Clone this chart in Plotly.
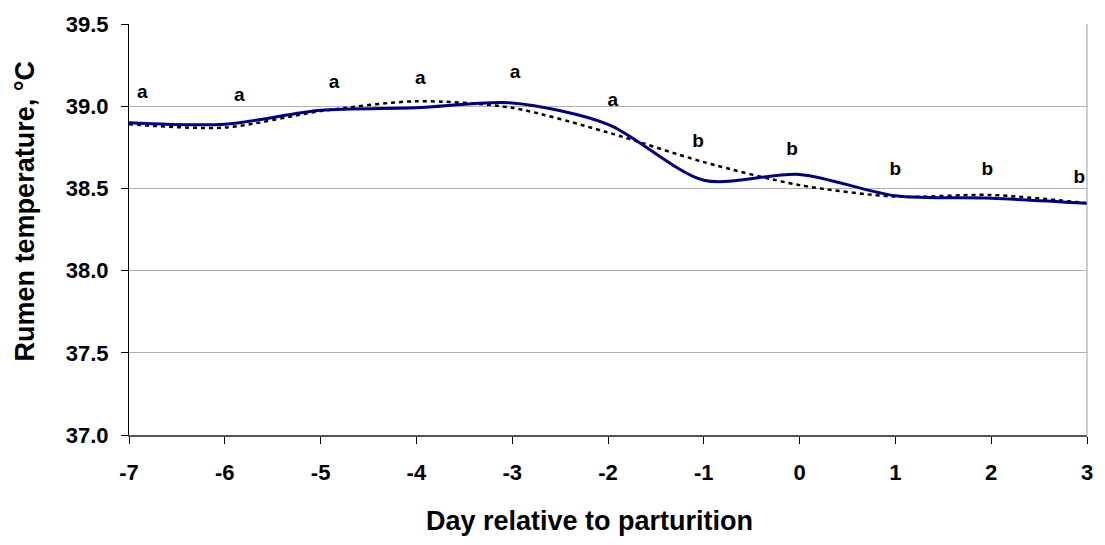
import plotly.graph_objects as go

days = [-7, -6, -5, -4, -3, -2, -1, 0, 1, 2, 3]
solid_temp = [38.90, 38.89, 38.975, 38.99, 39.02, 38.89, 38.55, 38.585, 38.455, 38.44, 38.41]
dotted_temp = [38.89, 38.87, 38.97, 39.03, 38.99, 38.84, 38.66, 38.52, 38.45, 38.46, 38.41]

letter_x = [-6.86, -5.85, -4.86, -3.96, -2.97, -1.95, -1.06, -0.08, 1.0, 1.96, 2.92]
letter_y = [39.08, 39.06, 39.14, 39.165, 39.20, 39.03, 38.78, 38.73, 38.61, 38.61, 38.56]
letters = ["a", "a", "a", "a", "a", "a", "b", "b", "b", "b", "b"]

y_ticks = [37.0, 37.5, 38.0, 38.5, 39.0, 39.5]
x_ticks = days

x_title = "Day relative to parturition"
y_title = "Rumen temperature, °C"

FONT = "Liberation Sans, Arial, sans-serif"

fig = go.Figure()
fig.add_trace(go.Scatter(
    x=days, y=dotted_temp, mode="lines",
    line=dict(color="#000000", width=2.5, dash="4px,4px", shape="spline", smoothing=0.8),
    showlegend=False, hoverinfo="skip"))
fig.add_trace(go.Scatter(
    x=days, y=solid_temp, mode="lines",
    line=dict(color="#000080", width=3, shape="spline", smoothing=0.8),
    showlegend=False, hoverinfo="skip"))
fig.add_trace(go.Scatter(
    x=letter_x, y=letter_y, mode="text", text=letters,
    textfont=dict(family=FONT, size=19, color="#000000", weight="bold"),
    showlegend=False, hoverinfo="skip"))

fig.add_shape(type="line", xref="paper", yref="paper", x0=1, x1=1, y0=0, y1=1,
              line=dict(color="#9a9a9a", width=1))

fig.add_annotation(text=x_title, xref="paper", yref="paper", x=0.481, y=-0.21,
                   xanchor="center", yanchor="middle", showarrow=False,
                   font=dict(family=FONT, size=27, color="#000000", weight="bold"))
fig.add_annotation(text=y_title, xref="paper", yref="paper", x=-0.109, y=0.543,
                   xanchor="center", yanchor="middle", showarrow=False, textangle=-90,
                   font=dict(family=FONT, size=27, color="#000000", weight="bold"))

fig.update_layout(
    width=1105, height=545,
    margin=dict(l=129, r=16, t=19, b=110),
    paper_bgcolor="white", plot_bgcolor="white",
    font=dict(family=FONT, color="#000000"),
    xaxis=dict(
        range=[-7, 3], tickvals=x_ticks, ticktext=[str(d) for d in x_ticks],
        ticks="outside", ticklen=7, tickcolor="#000000", tickwidth=1,
        ticklabelstandoff=10,
        showline=True, linecolor="#555555", linewidth=2,
        showgrid=False, zeroline=False,
        tickfont=dict(family=FONT, size=22, color="#000000", weight="bold"),
    ),
    yaxis=dict(
        range=[37.0, 39.5], tickvals=y_ticks, ticktext=[f"{v:.1f}" for v in y_ticks],
        ticks="outside", ticklen=7, tickcolor="#000000", tickwidth=1,
        ticklabelstandoff=8,
        showline=True, linecolor="#000000", linewidth=1,
        showgrid=True, gridcolor="#b0b0b0", gridwidth=1, zeroline=False,
        tickfont=dict(family=FONT, size=22, color="#000000", weight="bold"),
    ),
)

fig.write_html("out.html")
